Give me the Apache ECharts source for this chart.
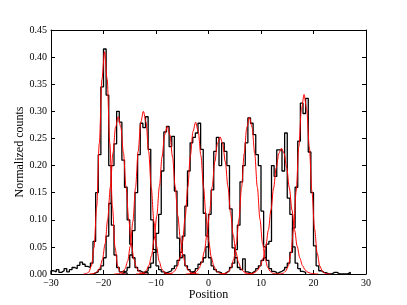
<!DOCTYPE html>
<html><head><meta charset="utf-8">
<script src="https://cdn.jsdelivr.net/npm/echarts@6/dist/echarts.min.js"></script>
<style>html,body{margin:0;padding:0;background:#fff}#c{width:407px;height:305px}</style>
</head><body><div id="c"></div>
<script>
// Tick labels
const xTicks = [-30, -20, -10, 0, 10, 20, 30];
const yTicks = [0.00, 0.05, 0.10, 0.15, 0.20, 0.25, 0.30, 0.35, 0.40, 0.45];

// Histograms (normalized counts), bin width 0.5, first bin left edge in histStarts
const binWidth = 0.5;
const histStarts = [-30, -22, -16.5, -12.5, -8.5, -3.5, 3, 8, 13];
const histA = [0.006,0.004,0.008,0.003,0.006,0.010,0.004,0.008,0.012,0.010,0.016,0.022,0.018,0.014,0.012,0.020,0.060,0.150,0.220,0.345,0.415,0.330,0.200,0.090,0.035,0.012,0.004,0.006,0.002];
const histB = [0.002,0.004,0.008,0.015,0.030,0.070,0.130,0.200,0.240,0.300,0.280,0.210,0.160,0.100,0.055,0.030,0.012,0.006,0.003,0.004,0.002];
const histC = [0.003,0.006,0.012,0.035,0.080,0.150,0.220,0.278,0.270,0.290,0.230,0.100,0.045,0.015,0.008,0.004,0.002];
const histD = [0.003,0.006,0.012,0.020,0.040,0.075,0.110,0.190,0.262,0.272,0.235,0.254,0.153,0.066,0.030,0.035,0.015,0.008,0.004,0.003];
const histE = [0.002,0.004,0.006,0.010,0.015,0.025,0.040,0.070,0.125,0.190,0.242,0.252,0.260,0.278,0.230,0.112,0.070,0.030,0.015,0.008,0.004,0.002];
const histF = [0.003,0.006,0.010,0.018,0.022,0.030,0.050,0.110,0.155,0.226,0.252,0.200,0.242,0.226,0.200,0.120,0.048,0.030,0.012,0.008,0.028,0.004,0.002];
const histG = [0.003,0.006,0.012,0.020,0.045,0.090,0.170,0.200,0.242,0.288,0.278,0.257,0.220,0.200,0.116,0.050,0.025,0.010,0.005,0.003];
const histH = [0.003,0.006,0.010,0.015,0.025,0.030,0.055,0.060,0.200,0.180,0.229,0.229,0.190,0.260,0.140,0.110,0.050,0.020,0.010,0.005,0.003];
const histI = [0.003,0.005,0.008,0.012,0.020,0.040,0.085,0.160,0.245,0.315,0.296,0.324,0.225,0.150,0.052,0.015,0.006,0.003,0.002,0,0,0.003,0.003,0,0,0,0,0.003];

const fitStep = 0.5;
const fitStarts = [-23.8, -22.7, -17.9, -13.85, -8.45, -4.3, 2.3, 6.9, 13.2];
const fitA = [0.0001,0.0006,0.0034,0.0148,0.049,0.124,0.241,0.359,0.41,0.359,0.241,0.124,0.049,0.0148,0.0034,0.0006,0.0001];
const fitB = [0.0001,0.0004,0.0014,0.0042,0.0113,0.0268,0.0555,0.101,0.160,0.223,0.271,0.290,0.271,0.223,0.160,0.101,0.0555,0.0268,0.0113,0.0042,0.0014,0.0004,0.0001];
const fitC = [0.0001,0.0003,0.001,0.0033,0.0094,0.0236,0.0513,0.0968,0.159,0.226,0.280,0.300,0.280,0.226,0.159,0.0968,0.0513,0.0236,0.0094,0.0033,0.001,0.0003,0.0001];
const fitD = [0.0001,0.0002,0.0008,0.0025,0.0067,0.016,0.0339,0.0641,0.1078,0.1616,0.2158,0.2567,0.272,0.2567,0.2158,0.1616,0.1078,0.0641,0.0339,0.016,0.0067,0.0025,0.0008,0.0002,0.0001];
const fitE = [0.0000,0.0002,0.0006,0.0018,0.0053,0.0134,0.030,0.0594,0.1039,0.1603,0.2185,0.263,0.280,0.263,0.2185,0.1603,0.1039,0.0594,0.030,0.0134,0.0053,0.0018,0.0006,0.0002,0.0000];
const fitF = [0.0001,0.0002,0.0006,0.0017,0.0043,0.0101,0.0216,0.0414,0.072,0.1132,0.1609,0.2069,0.2406,0.253,0.2406,0.2069,0.1609,0.1132,0.072,0.0414,0.0216,0.0101,0.0043,0.0017,0.0006,0.0002,0.0001];
const fitG = [0.0001,0.0004,0.0014,0.0043,0.0116,0.0272,0.056,0.1011,0.1601,0.2223,0.2707,0.289,0.2707,0.2223,0.1601,0.1011,0.056,0.0272,0.0116,0.0043,0.0014,0.0004,0.0001];
const fitH = [0.0001,0.0002,0.0005,0.0014,0.0034,0.0076,0.0155,0.0293,0.0507,0.0807,0.118,0.1586,0.1959,0.2224,0.232,0.2224,0.1959,0.1586,0.118,0.0807,0.0507,0.0293,0.0155,0.0076,0.0034,0.0014,0.0005,0.0002,0.0001];
const fitI = [0.0001,0.0003,0.0013,0.0049,0.0149,0.0385,0.0835,0.1525,0.2345,0.3037,0.331,0.3037,0.2345,0.1525,0.0835,0.0385,0.0149,0.0049,0.0013,0.0003,0.0001];

const hists = [histA, histB, histC, histD, histE, histF, histG, histH, histI];
const fits = [fitA, fitB, fitC, fitD, fitE, fitF, fitG, fitH, fitI];

function histPoints(start, vals) {
  const pts = [[start, 0]];
  vals.forEach((v, i) => pts.push([start + i * binWidth, v]));
  pts.push([start + vals.length * binWidth, 0]);
  return pts;
}
function fitPoints(start, vals) {
  return vals.map((v, i) => [start + i * fitStep, v]);
}

const series = [];
hists.forEach((h, k) => {
  series.push({
    type: 'line', step: 'end', data: histPoints(histStarts[k], h),
    showSymbol: false, symbol: 'none',
    lineStyle: { color: '#000', width: 1.3 }, z: 2
  });
  series.push({
    type: 'line', smooth: 0.3, smoothMonotone: 'x', data: fitPoints(fitStarts[k], fits[k]),
    showSymbol: false, symbol: 'none',
    lineStyle: { color: '#ff0000', width: 1 }, z: 3
  });
});

const font = 'Liberation Serif';
const xFmt = v => (v < 0 ? '\u2212' + Math.abs(v) : String(v));
const yFmt = v => Number(v).toFixed(2);
const xMin = xTicks[0], xMax = xTicks[xTicks.length - 1], xInt = xTicks[1] - xTicks[0];
const yMin = yTicks[0], yMax = yTicks[yTicks.length - 1], yInt = 0.05;

const axLine = { show: true, onZero: false, lineStyle: { color: '#000', width: 1 } };
const axTick = { show: true, inside: true, length: 4, lineStyle: { color: '#000', width: 1 } };

const option = {
  animation: false,
  backgroundColor: '#fff',
  grid: { left: 51, right: 41, top: 30, bottom: 31, containLabel: false, outerBoundsMode: 'none' },
  xAxis: [
    { type: 'value', min: xMin, max: xMax, interval: xInt, position: 'bottom',
      axisLine: axLine, axisTick: axTick, splitLine: { show: false },
      axisLabel: { formatter: xFmt, color: '#000', fontFamily: font, fontSize: 10, margin: 4 },
      name: 'Position', nameLocation: 'middle', nameGap: 15, nameMoveOverlap: false,
      nameTextStyle: { color: '#000', fontFamily: font, fontSize: 12 } },
    { type: 'value', min: xMin, max: xMax, interval: xInt, position: 'top',
      axisLine: axLine, axisTick: axTick, splitLine: { show: false },
      axisLabel: { show: false } }
  ],
  yAxis: [
    { type: 'value', min: yMin, max: yMax, interval: yInt, position: 'left',
      axisLine: axLine, axisTick: axTick, splitLine: { show: false },
      axisLabel: { formatter: yFmt, color: '#000', fontFamily: font, fontSize: 10, margin: 4 },
      name: 'Normalized counts', nameLocation: 'middle', nameGap: 25, nameMoveOverlap: false,
      nameTextStyle: { color: '#000', fontFamily: font, fontSize: 12 } },
    { type: 'value', min: yMin, max: yMax, interval: yInt, position: 'right',
      axisLine: axLine, axisTick: axTick, splitLine: { show: false },
      axisLabel: { show: false } }
  ],
  series: series
};

const chart = echarts.init(document.getElementById('c'), null, { renderer: 'canvas' });
chart.setOption(option);
</script>
</body></html>
